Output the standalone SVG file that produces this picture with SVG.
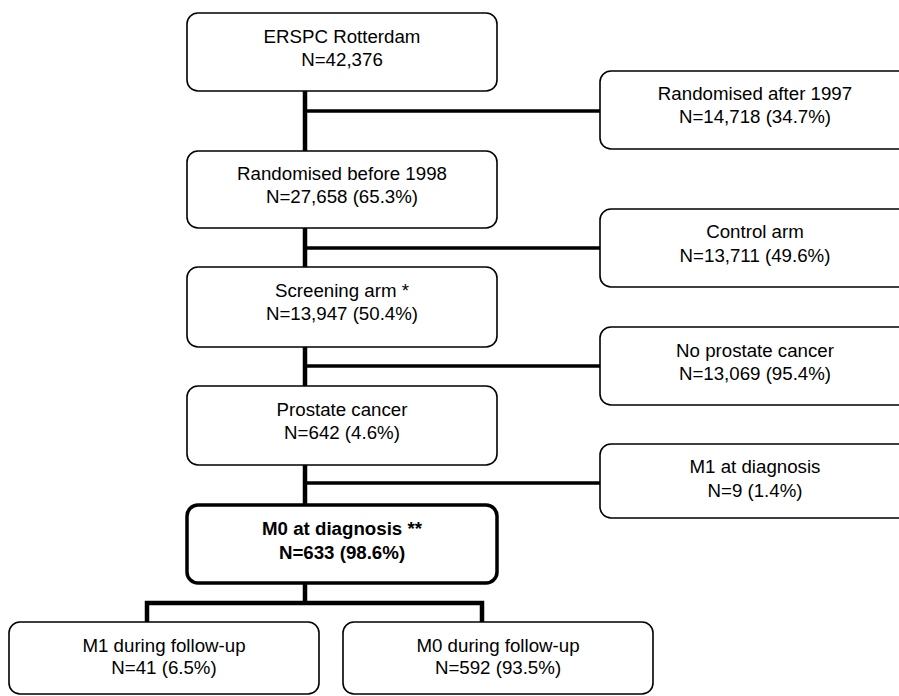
<svg xmlns="http://www.w3.org/2000/svg" width="899" height="696" viewBox="0 0 899 696">
<style>
.box{fill:#fff;stroke:#000;stroke-width:1.6}
.bold{fill:#fff;stroke:#000;stroke-width:3.5}
text{font-family:"Liberation Sans",Arial,sans-serif;font-size:18.7px;fill:#000;text-anchor:middle}
.b{font-weight:bold}
.trunk{stroke:#000;stroke-width:4.5;fill:none}
.hz{stroke:#000;stroke-width:3.5;fill:none}
</style>
<rect width="899" height="696" fill="#fff"/>
<g id="connectors">
<line class="trunk" x1="305" y1="91" x2="305" y2="151"/>
<line class="hz" x1="305" y1="111" x2="600" y2="111"/>
<line class="trunk" x1="305" y1="228" x2="305" y2="267"/>
<line class="hz" x1="305" y1="248" x2="600" y2="248"/>
<line class="trunk" x1="305" y1="347" x2="305" y2="386"/>
<line class="hz" x1="305" y1="366" x2="600" y2="366"/>
<line class="trunk" x1="305" y1="465" x2="305" y2="505"/>
<line class="hz" x1="305" y1="483" x2="600" y2="483"/>
<line class="trunk" x1="305" y1="583" x2="305" y2="603"/>
<polyline class="trunk" points="147,622 147,603 482,603 482,622"/>
</g>
<g id="n1"><rect class="box" x="187" y="13" width="310" height="78" rx="11"/><text x="342" y="43">ERSPC Rotterdam</text><text x="342" y="66">N=42,376</text></g>
<g id="n2"><rect class="box" x="600" y="71" width="320" height="78" rx="11"/><text x="755" y="100">Randomised after 1997</text><text x="755" y="123">N=14,718 (34.7%)</text></g>
<g id="n3"><rect class="box" x="187" y="151" width="310" height="77" rx="11"/><text x="342" y="180">Randomised before 1998</text><text x="342" y="203">N=27,658 (65.3%)</text></g>
<g id="n4"><rect class="box" x="600" y="209" width="320" height="78" rx="11"/><text x="755" y="238">Control arm</text><text x="755" y="262">N=13,711 (49.6%)</text></g>
<g id="n5"><rect class="box" x="187" y="267" width="310" height="80" rx="11"/><text x="342" y="297">Screening arm *</text><text x="342" y="320">N=13,947 (50.4%)</text></g>
<g id="n6"><rect class="box" x="600" y="327" width="320" height="78" rx="11"/><text x="755" y="357">No prostate cancer</text><text x="755" y="380">N=13,069 (95.4%)</text></g>
<g id="n7"><rect class="box" x="187" y="386" width="310" height="79" rx="11"/><text x="342" y="416">Prostate cancer</text><text x="342" y="439">N=642 (4.6%)</text></g>
<g id="n8"><rect class="box" x="600" y="444" width="320" height="74" rx="11"/><text x="755" y="473">M1 at diagnosis</text><text x="755" y="497">N=9 (1.4%)</text></g>
<g id="n9"><rect class="bold" x="187" y="505" width="310" height="78" rx="11"/><text class="b" x="342" y="535">M0 at diagnosis **</text><text class="b" x="342" y="559">N=633 (98.6%)</text></g>
<g id="n10"><rect class="box" x="9" y="622" width="310" height="72" rx="11"/><text x="164" y="652">M1 during follow-up</text><text x="164" y="674">N=41 (6.5%)</text></g>
<g id="n11"><rect class="box" x="343" y="622" width="310" height="72" rx="11"/><text x="498" y="652">M0 during follow-up</text><text x="498" y="674">N=592 (93.5%)</text></g>
</svg>
